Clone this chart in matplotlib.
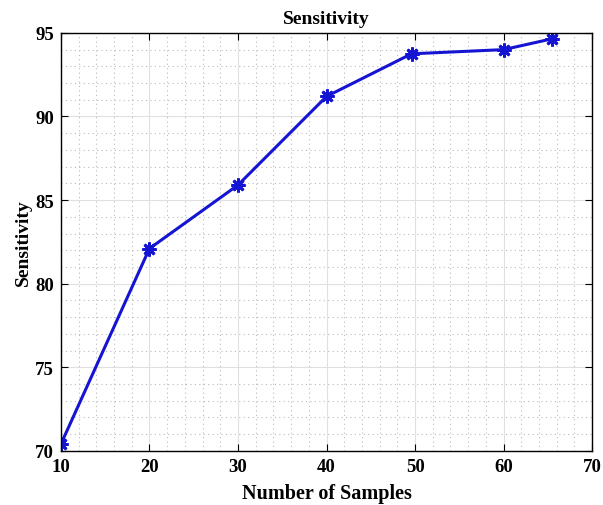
import matplotlib.pyplot as plt
from matplotlib.ticker import MultipleLocator

# data
samples = [10, 20, 30, 40, 49.6, 60, 65.5]
sensitivity = [70.4, 82.1, 85.9, 91.2, 93.75, 94.0, 94.65]

plt.rcParams['font.family'] = ['Liberation Serif', 'DejaVu Serif']
plt.rcParams['font.weight'] = 'bold'

fig = plt.figure(figsize=(6.03, 5.06), dpi=100)
ax = fig.add_axes([0.101, 0.107, 0.881, 0.826])

ax.plot(samples, sensitivity, color='#1414d2', linewidth=2.2, marker=(8, 2, 0),
        markersize=10, markeredgewidth=2)

ax.set_xlim(10, 70)
ax.set_ylim(70, 95)
ax.xaxis.set_major_locator(MultipleLocator(10))
ax.xaxis.set_minor_locator(MultipleLocator(2))
ax.yaxis.set_major_locator(MultipleLocator(5))
ax.yaxis.set_minor_locator(MultipleLocator(1))

ax.grid(which='major', color='#e0e0e0', linewidth=0.8)
ax.grid(which='minor', color='#bbbbbb', linestyle=(0, (1, 3)), linewidth=0.8)
ax.tick_params(which='major', direction='in', top=True, right=True,
               labelsize=13.5, length=5, pad=5)
ax.tick_params(which='minor', length=0)
for s in ax.spines.values():
    s.set_linewidth(1.0)

ax.set_title('Sensitivity', fontsize=14, fontweight='bold', pad=7)
ax.set_xlabel('Number of Samples', fontsize=14.5, fontweight='bold', labelpad=6)
ax.set_ylabel('Sensitivity', fontsize=14, fontweight='bold', labelpad=2)

fig.savefig('out.png', dpi=100)
